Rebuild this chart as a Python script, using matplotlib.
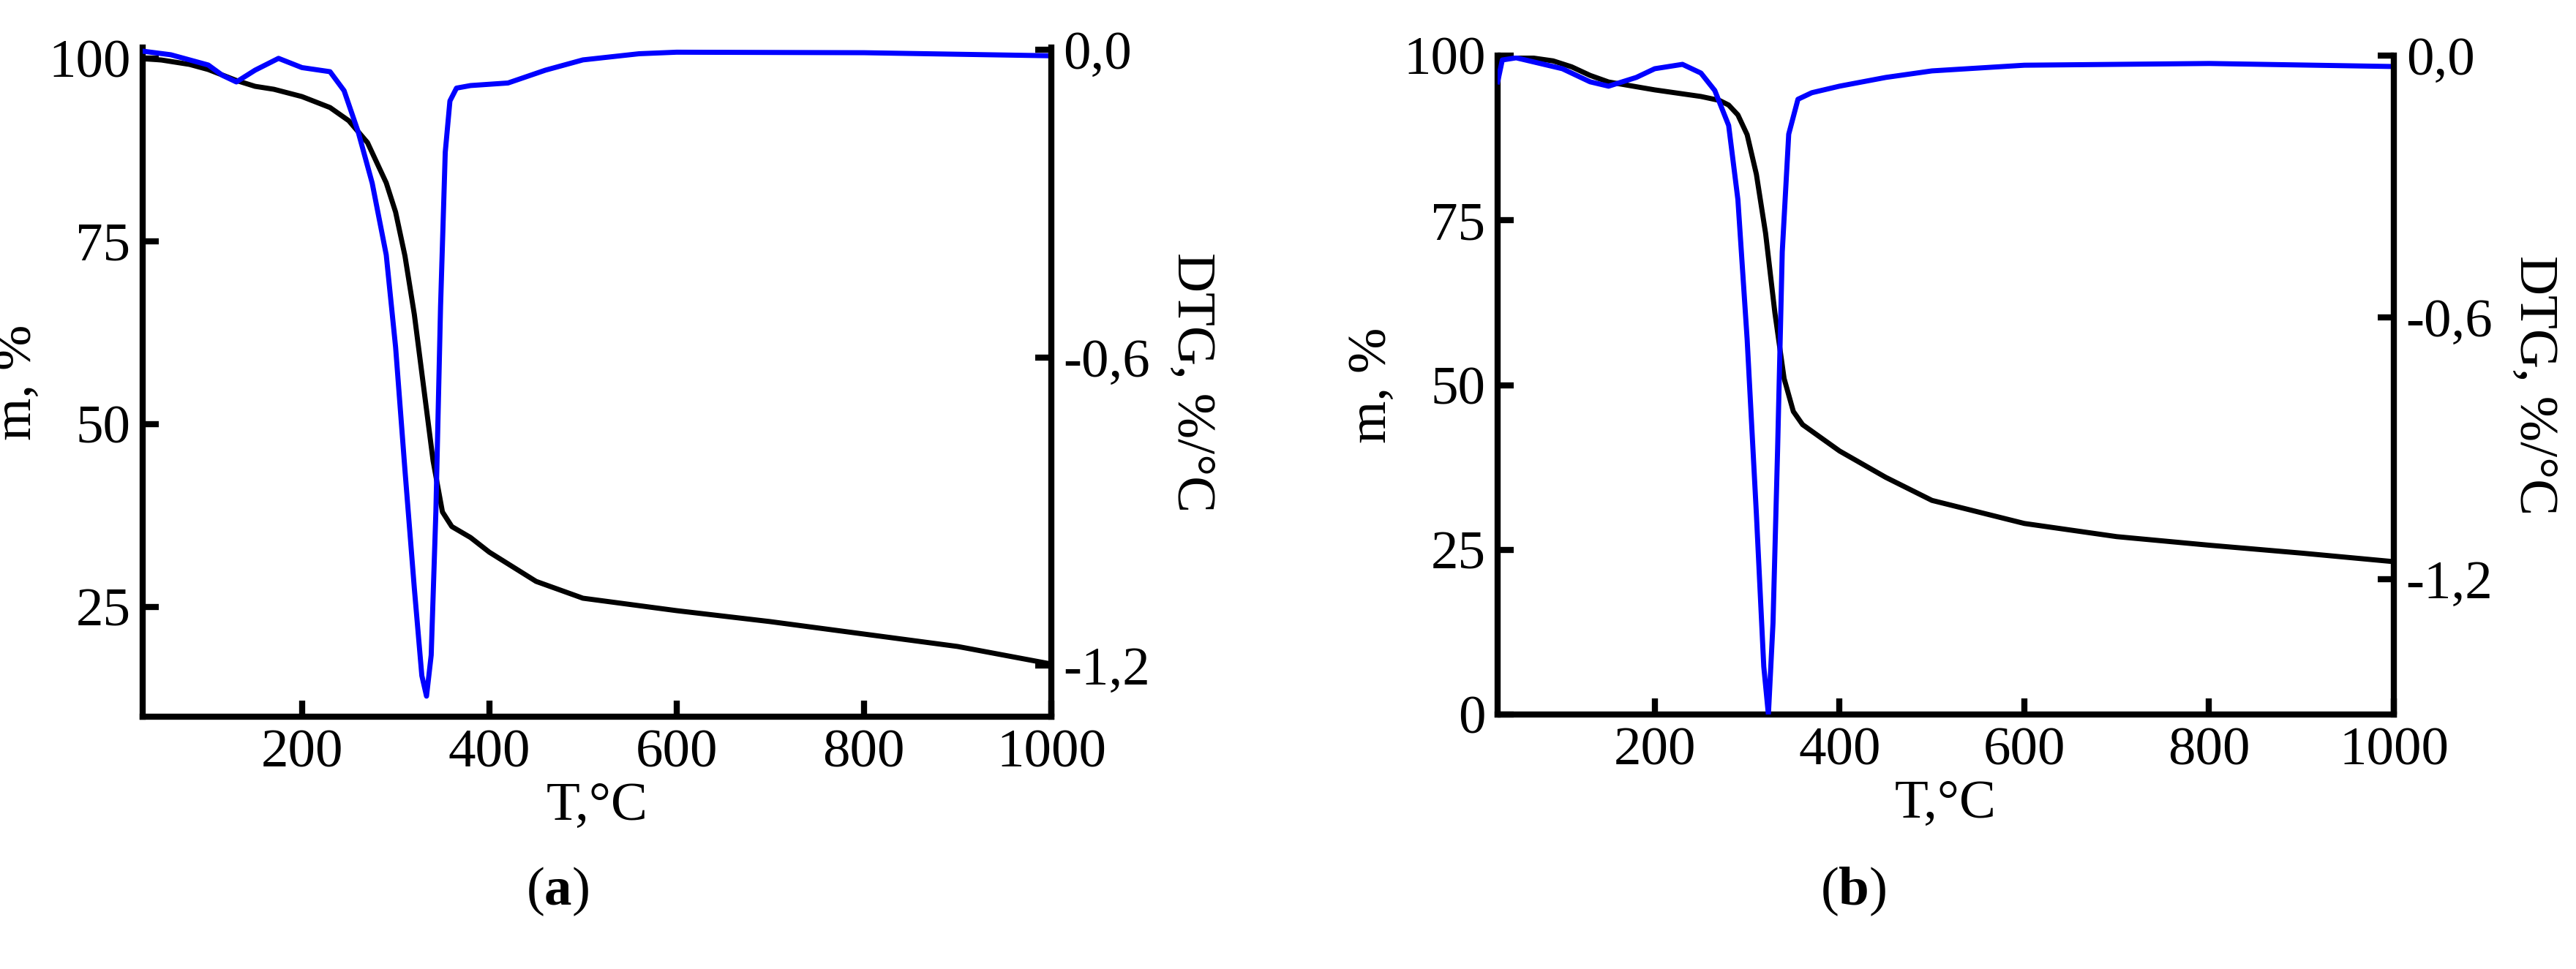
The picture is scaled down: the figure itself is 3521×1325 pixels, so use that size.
import matplotlib
matplotlib.use("Agg")
import matplotlib.pyplot as plt
from matplotlib.ticker import FuncFormatter

plt.rcParams['font.family'] = ['Liberation Serif', 'DejaVu Serif']
plt.rcParams['mathtext.fontset'] = 'custom'
plt.rcParams['mathtext.rm'] = 'Liberation Serif'
plt.rcParams['mathtext.bf'] = 'Liberation Serif:bold'

# Panel (a)
Ta_m = [30, 50, 80, 100, 130, 150, 170, 200, 230, 250, 270, 290, 300, 310, 320, 330, 340, 350, 360, 380, 400, 450, 500, 600, 700, 800, 900, 1000]
ma = [100, 99.8, 99.2, 98.5, 97, 96.2, 95.8, 94.8, 93.3, 91.5, 88.5, 83, 79, 73, 65, 55, 45, 38, 36, 34.5, 32.5, 28.5, 26.2, 24.5, 23, 21.3, 19.6, 17.2]
Ta_d = [30, 60, 100, 115, 130, 150, 175, 200, 230, 245, 260, 275, 290, 300, 310, 320, 328, 333, 338, 343, 348, 353, 358, 365, 380, 420, 460, 500, 560, 600, 800, 1000]
dtga = [-0.003, -0.01, -0.03, -0.05, -0.063, -0.04, -0.017, -0.035, -0.043, -0.08, -0.16, -0.26, -0.4, -0.58, -0.82, -1.05, -1.22, -1.26, -1.18, -0.9, -0.5, -0.2, -0.1, -0.075, -0.07, -0.065, -0.04, -0.02, -0.008, -0.005, -0.006, -0.012]

# Panel (b)
Tb_m = [30, 60, 90, 110, 130, 150, 200, 250, 270, 280, 290, 300, 310, 320, 330, 340, 350, 360, 380, 400, 450, 500, 600, 700, 800, 900, 1000]
mb = [100, 99.8, 99.2, 98.3, 97, 96, 94.8, 93.8, 93.2, 92.5, 91, 88, 82, 73, 61, 51, 46, 44, 42, 40, 36, 32.5, 29, 27, 25.7, 24.5, 23.2]
Tb_d = [30, 35, 50, 100, 130, 150, 180, 200, 230, 250, 265, 280, 290, 300, 310, 318, 323, 328, 333, 338, 345, 355, 370, 400, 450, 500, 600, 800, 1000]
dtgb = [-0.06, -0.01, -0.005, -0.03, -0.06, -0.07, -0.05, -0.03, -0.02, -0.04, -0.08, -0.16, -0.33, -0.65, -1.05, -1.4, -1.51, -1.3, -0.9, -0.45, -0.18, -0.1, -0.085, -0.07, -0.05, -0.035, -0.022, -0.018, -0.025]

fig = plt.figure(figsize=(35.21, 13.25), dpi=100)
fs = 54
comma = FuncFormatter(lambda v, p: ('%.1f' % v).replace('.', ','))

def panel(rect, Tm, m, Td, d, ylim_m, ylim_d, mticks, label, lx):
    ax = fig.add_axes(rect)
    ax.plot(Tm, m, color='black', lw=5, zorder=3)
    ax.set_xlim(30, 1000)
    ax.set_ylim(*ylim_m)
    ax.set_xticks([200, 400, 600, 800, 1000])
    ax.set_yticks(mticks)
    ax.spines['top'].set_visible(False)
    ax.spines['right'].set_visible(False)
    for s in ['left', 'bottom']:
        ax.spines[s].set_linewidth(6)
    ax.tick_params(direction='in', length=16, width=6, labelsize=fs, pad=12)
    ax.set_xlabel('T,°C', fontsize=fs, labelpad=4)
    ax.set_ylabel('m, %', fontsize=fs, labelpad=6)
    ax2 = ax.twinx()
    ax2.plot(Td, d, color='#0000ff', lw=5, zorder=2)
    ax2.set_ylim(*ylim_d)
    ax2.set_yticks([0.0, -0.6, -1.2])
    ax2.yaxis.set_major_formatter(comma)
    for s in ['top', 'left', 'bottom']:
        ax2.spines[s].set_visible(False)
    ax2.spines['right'].set_linewidth(6)
    ax2.tick_params(direction='in', length=16, width=6, labelsize=fs, pad=12)
    ax2.set_ylabel('DTG, %/°C', fontsize=fs, rotation=-90, labelpad=64)
    fig.text(lx, 0.08, r'($\mathbf{' + label + r'}$)', fontsize=fs, ha='center', va='center')

panel([0.0554, 0.2604, 0.3527, 0.6905], Ta_m, ma, Ta_d, dtga, (10, 101.5), (-1.30, 0.004), [25, 50, 75, 100], 'a', 0.2165)
panel([0.5814, 0.2626, 0.3479, 0.6800], Tb_m, mb, Tb_d, dtgb, (0, 100), (-1.51, 0.0), [0, 25, 50, 75, 100], 'b', 0.7195)

fig.savefig('out.png', dpi=100)
